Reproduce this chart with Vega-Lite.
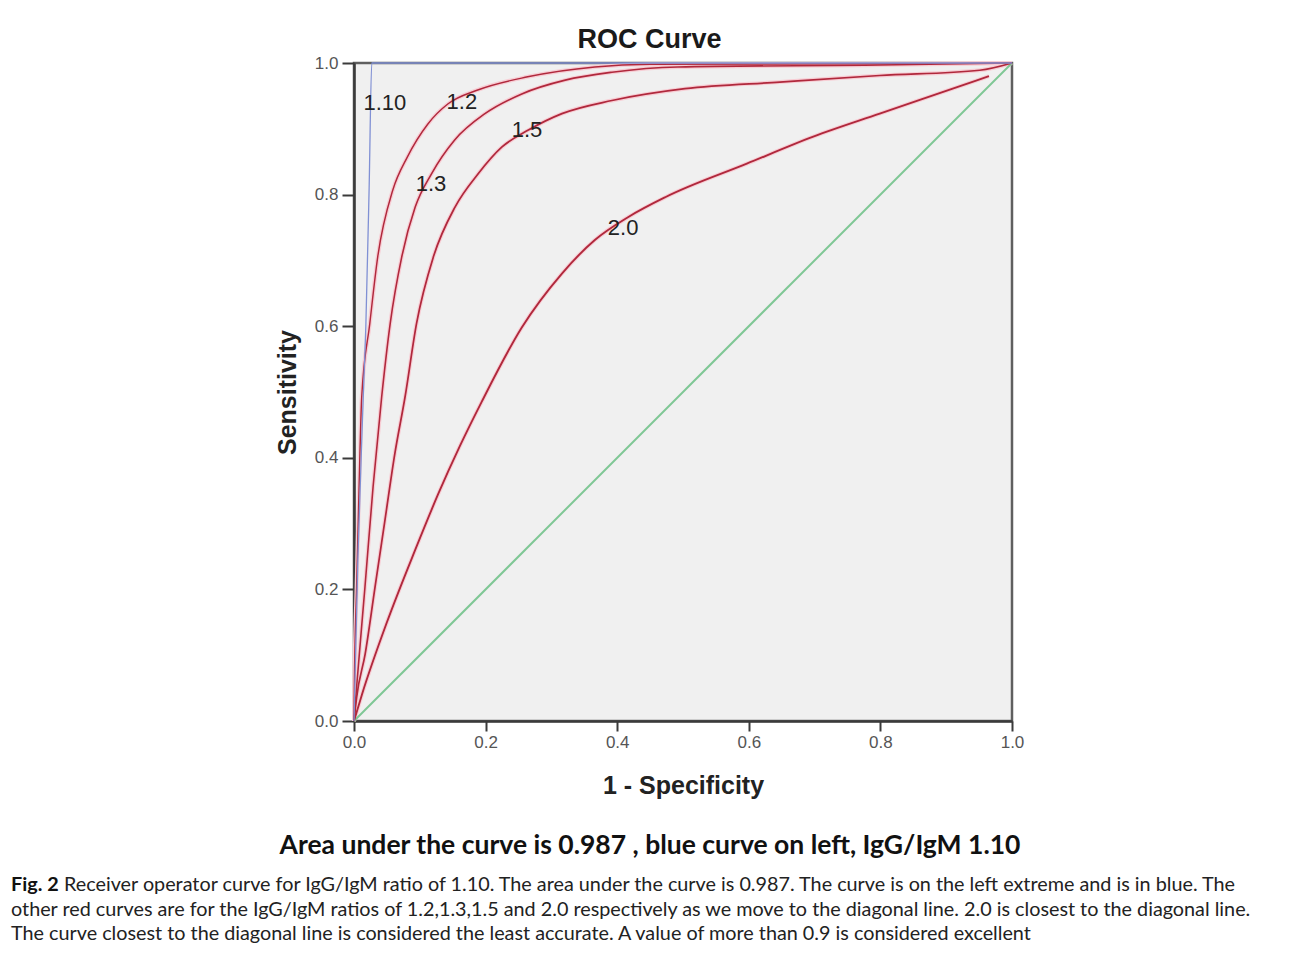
{
  "$schema": "https://vega.github.io/schema/vega-lite/v6.json",
  "background": "#ffffff",
  "padding": {"left": 11, "top": 24, "right": 5, "bottom": 5},
  "spacing": 32,
  "config": {
    "font": "Liberation Sans",
    "axis": {
      "grid": false,
      "domainColor": "#3a3a3a",
      "domainWidth": 2.5,
      "tickColor": "#3a3a3a",
      "tickWidth": 2,
      "tickSize": 10,
      "labelFont": "Liberation Sans",
      "labelFontSize": 17,
      "labelColor": "#555555",
      "labelFlush": false,
      "titleFont": "Liberation Sans",
      "titleFontSize": 25,
      "titleFontWeight": "bold",
      "titleColor": "#222222"
    }
  },
  "datasets": {
    "roc": [
      {"curve": "Reference", "fpr": 0, "tpr": 0},
      {"curve": "Reference", "fpr": 1, "tpr": 1},
      {"curve": "2.0", "fpr": 0, "tpr": 0},
      {"curve": "2.0", "fpr": 0.012, "tpr": 0.04},
      {"curve": "2.0", "fpr": 0.05, "tpr": 0.15},
      {"curve": "2.0", "fpr": 0.093, "tpr": 0.26},
      {"curve": "2.0", "fpr": 0.128, "tpr": 0.345},
      {"curve": "2.0", "fpr": 0.161, "tpr": 0.418},
      {"curve": "2.0", "fpr": 0.194, "tpr": 0.485},
      {"curve": "2.0", "fpr": 0.255, "tpr": 0.598},
      {"curve": "2.0", "fpr": 0.316, "tpr": 0.68},
      {"curve": "2.0", "fpr": 0.366, "tpr": 0.731},
      {"curve": "2.0", "fpr": 0.417, "tpr": 0.766},
      {"curve": "2.0", "fpr": 0.473, "tpr": 0.796},
      {"curve": "2.0", "fpr": 0.597, "tpr": 0.847},
      {"curve": "2.0", "fpr": 0.698, "tpr": 0.888},
      {"curve": "2.0", "fpr": 0.799, "tpr": 0.923},
      {"curve": "2.0", "fpr": 0.901, "tpr": 0.958},
      {"curve": "2.0", "fpr": 0.965, "tpr": 0.98},
      {"curve": "1.5", "fpr": 0, "tpr": 0},
      {"curve": "1.5", "fpr": 0.004, "tpr": 0.036},
      {"curve": "1.5", "fpr": 0.017, "tpr": 0.102},
      {"curve": "1.5", "fpr": 0.032, "tpr": 0.204},
      {"curve": "1.5", "fpr": 0.047, "tpr": 0.305},
      {"curve": "1.5", "fpr": 0.062, "tpr": 0.406},
      {"curve": "1.5", "fpr": 0.0775, "tpr": 0.492},
      {"curve": "1.5", "fpr": 0.095, "tpr": 0.604},
      {"curve": "1.5", "fpr": 0.1205, "tpr": 0.705},
      {"curve": "1.5", "fpr": 0.1535, "tpr": 0.781},
      {"curve": "1.5", "fpr": 0.189, "tpr": 0.832},
      {"curve": "1.5", "fpr": 0.2245, "tpr": 0.872},
      {"curve": "1.5", "fpr": 0.265, "tpr": 0.898},
      {"curve": "1.5", "fpr": 0.316, "tpr": 0.923},
      {"curve": "1.5", "fpr": 0.392, "tpr": 0.943},
      {"curve": "1.5", "fpr": 0.503, "tpr": 0.961},
      {"curve": "1.5", "fpr": 0.647, "tpr": 0.971},
      {"curve": "1.5", "fpr": 0.799, "tpr": 0.981},
      {"curve": "1.5", "fpr": 0.951, "tpr": 0.989},
      {"curve": "1.5", "fpr": 1, "tpr": 1},
      {"curve": "1.3", "fpr": 0, "tpr": 0},
      {"curve": "1.3", "fpr": 0.004, "tpr": 0.052},
      {"curve": "1.3", "fpr": 0.0167, "tpr": 0.204},
      {"curve": "1.3", "fpr": 0.029, "tpr": 0.356},
      {"curve": "1.3", "fpr": 0.042, "tpr": 0.492},
      {"curve": "1.3", "fpr": 0.055, "tpr": 0.604},
      {"curve": "1.3", "fpr": 0.0725, "tpr": 0.705},
      {"curve": "1.3", "fpr": 0.093, "tpr": 0.781},
      {"curve": "1.3", "fpr": 0.118, "tpr": 0.832},
      {"curve": "1.3", "fpr": 0.153, "tpr": 0.883},
      {"curve": "1.3", "fpr": 0.199, "tpr": 0.923},
      {"curve": "1.3", "fpr": 0.255, "tpr": 0.953},
      {"curve": "1.3", "fpr": 0.321, "tpr": 0.974},
      {"curve": "1.3", "fpr": 0.392, "tpr": 0.986},
      {"curve": "1.3", "fpr": 0.492, "tpr": 0.994},
      {"curve": "1.3", "fpr": 0.8, "tpr": 0.997},
      {"curve": "1.3", "fpr": 1, "tpr": 1},
      {"curve": "1.2", "fpr": 0, "tpr": 0},
      {"curve": "1.2", "fpr": 0.0005, "tpr": 0.05},
      {"curve": "1.2", "fpr": 0.004, "tpr": 0.204},
      {"curve": "1.2", "fpr": 0.0065, "tpr": 0.305},
      {"curve": "1.2", "fpr": 0.009, "tpr": 0.406},
      {"curve": "1.2", "fpr": 0.0117, "tpr": 0.492},
      {"curve": "1.2", "fpr": 0.024, "tpr": 0.604},
      {"curve": "1.2", "fpr": 0.036, "tpr": 0.705},
      {"curve": "1.2", "fpr": 0.059, "tpr": 0.807},
      {"curve": "1.2", "fpr": 0.081, "tpr": 0.857},
      {"curve": "1.2", "fpr": 0.112, "tpr": 0.907},
      {"curve": "1.2", "fpr": 0.143, "tpr": 0.938},
      {"curve": "1.2", "fpr": 0.188, "tpr": 0.959},
      {"curve": "1.2", "fpr": 0.264, "tpr": 0.979},
      {"curve": "1.2", "fpr": 0.366, "tpr": 0.994},
      {"curve": "1.2", "fpr": 0.45, "tpr": 0.998},
      {"curve": "1.2", "fpr": 0.8, "tpr": 0.999},
      {"curve": "1.2", "fpr": 1, "tpr": 1},
      {"curve": "1.10", "fpr": 0, "tpr": 0},
      {"curve": "1.10", "fpr": 0.006, "tpr": 0.25},
      {"curve": "1.10", "fpr": 0.014, "tpr": 0.49},
      {"curve": "1.10", "fpr": 0.018, "tpr": 0.6},
      {"curve": "1.10", "fpr": 0.023, "tpr": 0.81},
      {"curve": "1.10", "fpr": 0.027, "tpr": 1},
      {"curve": "1.10", "fpr": 1, "tpr": 1}
    ],
    "labels": [
      {"label": "1.10", "fpr": 0.047, "tpr": 0.939},
      {"label": "1.2", "fpr": 0.164, "tpr": 0.941},
      {"label": "1.3", "fpr": 0.117, "tpr": 0.816},
      {"label": "1.5", "fpr": 0.263, "tpr": 0.898},
      {"label": "2.0", "fpr": 0.409, "tpr": 0.749}
    ],
    "caption": [
      {"line": 1, "part": "lead", "text": "Fig. 2"},
      {"line": 1, "part": "first", "text": "Receiver operator curve for IgG/IgM ratio of 1.10. The area under the curve is 0.987. The curve is on the left extreme and is in blue. The"},
      {"line": 2, "part": "rest", "text": "other red curves are for the IgG/IgM ratios of 1.2,1.3,1.5 and 2.0 respectively as we move to the diagonal line. 2.0 is closest to the diagonal line."},
      {"line": 3, "part": "rest", "text": "The curve closest to the diagonal line is considered the least accurate. A value of more than 0.9 is considered excellent"}
    ]
  },
  "vconcat": [
    {
      "width": 658,
      "height": 658,
      "title": {
        "text": "ROC Curve",
        "font": "Liberation Sans",
        "fontSize": 27,
        "fontWeight": "bold",
        "color": "#1a1a1a",
        "anchor": "middle",
        "frame": "bounds",
        "offset": 0
      },
      "view": {"fill": "#f0f0f0", "stroke": "#5f5f5f", "strokeWidth": 2.5},
      "encoding": {
        "x": {
          "field": "fpr",
          "type": "quantitative",
          "scale": {"domain": [0, 1]},
          "axis": {
            "title": "1 - Specificity",
            "values": [0, 0.2, 0.4, 0.6, 0.8, 1],
            "format": ".1f",
            "labelPadding": 3,
            "titlePadding": 23
          }
        },
        "y": {
          "field": "tpr",
          "type": "quantitative",
          "scale": {"domain": [0, 1]},
          "axis": {
            "title": "Sensitivity",
            "values": [0, 0.2, 0.4, 0.6, 0.8, 1],
            "format": ".1f",
            "tickSize": 12,
            "labelPadding": 4,
            "titlePadding": 14
          }
        }
      },
      "layer": [
        {
          "data": {"name": "roc"},
          "transform": [{"filter": {"field": "curve", "oneOf": ["1.2", "1.3", "1.5", "2.0"]}}],
          "mark": {"type": "line", "interpolate": "monotone", "stroke": "#f7cdd4", "strokeWidth": 4},
          "encoding": {"detail": {"field": "curve"}}
        },
        {
          "data": {"name": "roc"},
          "mark": {"type": "line", "interpolate": "monotone"},
          "encoding": {
            "color": {
              "field": "curve",
              "scale": {
                "domain": ["Reference", "2.0", "1.5", "1.3", "1.2", "1.10"],
                "range": ["#7fc795", "#b0283c", "#b0283c", "#b0283c", "#b0283c", "#8090d4"]
              },
              "legend": null
            },
            "strokeWidth": {
              "field": "curve",
              "scale": {
                "domain": ["Reference", "2.0", "1.5", "1.3", "1.2", "1.10"],
                "range": [2, 1.3, 1.3, 1.3, 1.3, 2.4]
              },
              "legend": null
            }
          }
        },
        {
          "data": {"name": "labels"},
          "mark": {"type": "text", "font": "Liberation Sans", "fontSize": 22, "color": "#222222", "align": "center", "baseline": "middle"},
          "encoding": {"text": {"field": "label"}}
        }
      ]
    },
    {
      "width": 592,
      "height": {"step": 24.5},
      "title": {
        "text": "Area under the curve is 0.987 , blue curve on left, IgG/IgM 1.10",
        "font": "Lato",
        "fontSize": 26.5,
        "fontWeight": "bold",
        "color": "#111111",
        "anchor": "middle",
        "frame": "group",
        "offset": 14
      },
      "view": {"stroke": null},
      "data": {"name": "caption"},
      "encoding": {
        "x": {"datum": 0, "type": "quantitative", "scale": {"domain": [0, 1]}, "axis": null},
        "y": {"field": "line", "type": "ordinal", "scale": {"domain": [1, 2, 3]}, "axis": null},
        "text": {"field": "text"}
      },
      "layer": [
        {
          "transform": [{"filter": "datum.part === 'lead'"}],
          "mark": {"type": "text", "align": "left", "baseline": "middle", "dx": -343, "font": "Lato", "fontSize": 19.8, "fontWeight": "bold", "color": "#111111"}
        },
        {
          "transform": [{"filter": "datum.part === 'first'"}],
          "mark": {"type": "text", "align": "left", "baseline": "middle", "dx": -290, "font": "Lato", "fontSize": 19.8, "color": "#222222"}
        },
        {
          "transform": [{"filter": "datum.part === 'rest'"}],
          "mark": {"type": "text", "align": "left", "baseline": "middle", "dx": -343, "font": "Lato", "fontSize": 19.8, "color": "#222222"}
        }
      ]
    }
  ]
}
